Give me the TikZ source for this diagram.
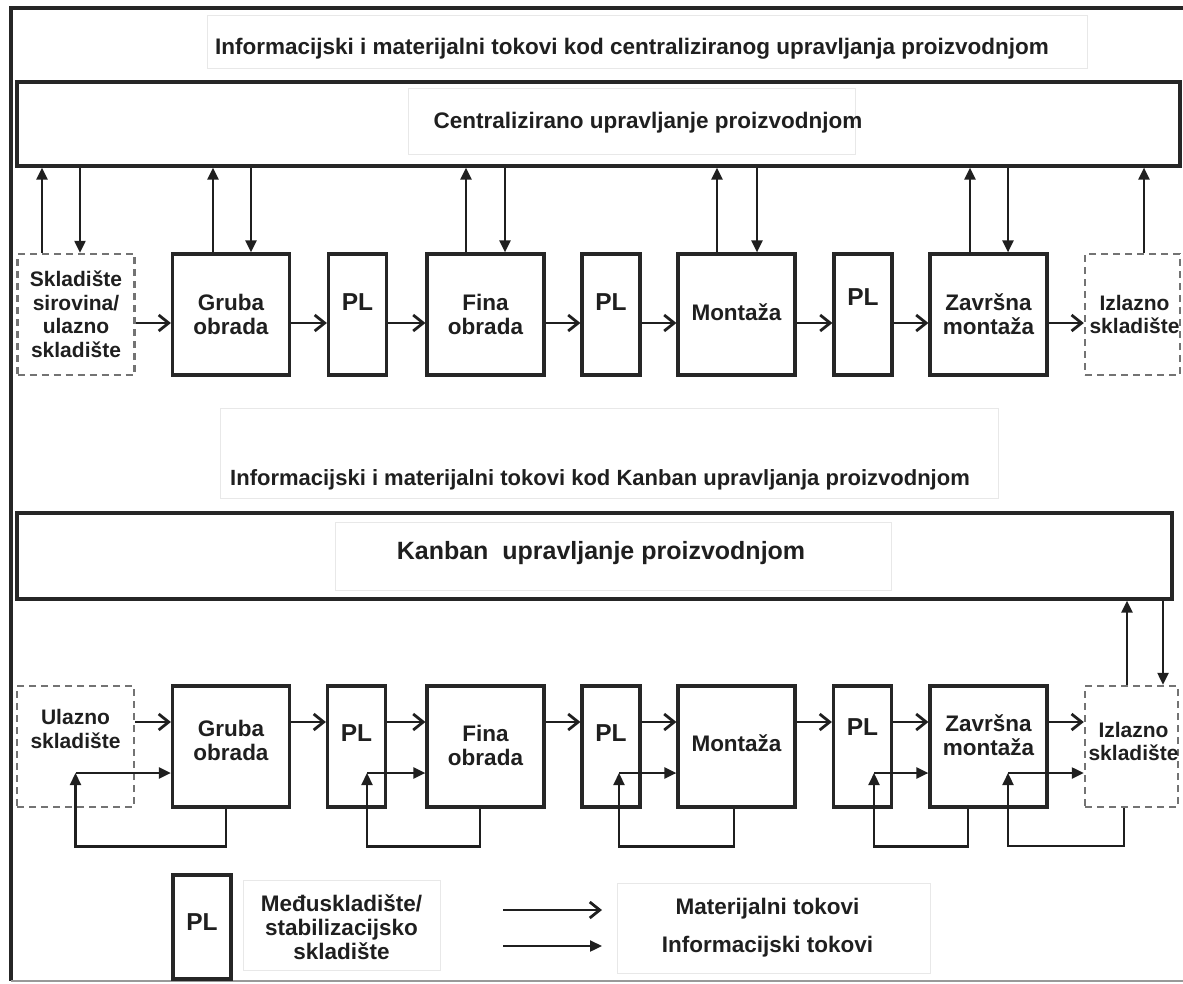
\documentclass[tikz,border=0pt]{standalone}
\usepackage{fontspec}
\setmainfont{Liberation Sans}
\usetikzlibrary{arrows.meta}

\newcommand\boxfont{\fontsize{22.5}{24}\selectfont\bfseries}
\newcommand\storefont{\fontsize{21}{23.5}\selectfont\bfseries}
\newcommand\plfont{\fontsize{24.5}{26}\selectfont\bfseries}
\newcommand\ttlfont{\fontsize{22}{24}\selectfont\bfseries}
\newcommand\kanbanfont{\fontsize{25}{27}\selectfont\bfseries}

\tikzset{
  box/.style={draw=black!85, line width=3.2pt, minimum width=117pt, minimum height=121pt, inner sep=0pt},
  plbox/.style={box, minimum width=58pt},
  store/.style={box, draw=black!55, line width=2.4pt, dash pattern=on 7pt off 5pt},
  faint/.style={draw=black!9, line width=1pt, inner sep=0pt},
  lbl/.style={font=\boxfont, align=center, inner sep=0pt, text=black!88},
  mat/.style={draw=black!88, line width=2.8pt, -{Straight Barb[length=10pt,width=16pt]}},
  inf/.style={draw=black!88, line width=2.3pt, -{Triangle[length=12pt,width=11pt]}}
}

\begin{document}
\begin{tikzpicture}[x=1pt, y=-1pt]
\useasboundingbox (0,0) rectangle (1183,983);
% frame
\draw[line width=3.5pt, black!85] (1183,8) -- (11,8) -- (11,981);
\draw[line width=1.5pt, black!40] (11,981) -- (1183,981);

% centralised control
\node[faint, minimum width=880pt, minimum height=53pt, label={[lbl, xshift=-15pt, yshift=-7pt]center:Informacijski i materijalni tokovi kod centraliziranog upravljanja proizvodnjom}] (ttl1) at (647,41.5) {};
\node[box, minimum width=1163pt, minimum height=84pt] (ctrl1) at (598.5,124) {};
\node[faint, minimum width=447pt, minimum height=66pt, label={[lbl, xshift=16.5pt, yshift=-2pt]center:Centralizirano upravljanje proizvodnjom}] (ctrl1t) at (631.5,121) {};

\node[store, label={[lbl, font=\storefont]center:Skladište\\sirovina/\\ulazno\\skladište}] (skl1) at (76,314.5) {};
\node[box, label={[lbl]center:Gruba\\obrada}] (gr1) at (231,314.5) {};
\node[plbox, label={[lbl, font=\plfont, yshift=12pt]center:PL}] (pl1a) at (357.5,314.5) {};
\node[box, label={[lbl]center:Fina\\obrada}] (fi1) at (485.5,314.5) {};
\node[plbox, label={[lbl, font=\plfont, yshift=12pt]center:PL}] (pl1b) at (611,314.5) {};
\node[box, label={[lbl, yshift=2pt]center:Montaža}] (mo1) at (736.5,314.5) {};
\node[plbox, label={[lbl, font=\plfont, yshift=17pt]center:PL}] (pl1c) at (863,314.5) {};
\node[box, label={[lbl]center:Završna\\montaža}] (zm1) at (988.5,314.5) {};
\node[store, minimum width=95pt, label={[lbl, font=\storefont, xshift=2pt]center:Izlazno\\skladište}] (iz1) at (1132.5,314.5) {};

\draw[mat] ([yshift=-8.5pt]skl1.east) -- ([yshift=-8.5pt]gr1.west);
\draw[mat] ([yshift=-8.5pt]gr1.east) -- ([yshift=-8.5pt]pl1a.west);
\draw[mat] ([yshift=-8.5pt]pl1a.east) -- ([yshift=-8.5pt]fi1.west);
\draw[mat] ([yshift=-8.5pt]fi1.east) -- ([yshift=-8.5pt]pl1b.west);
\draw[mat] ([yshift=-8.5pt]pl1b.east) -- ([yshift=-8.5pt]mo1.west);
\draw[mat] ([yshift=-8.5pt]mo1.east) -- ([yshift=-8.5pt]pl1c.west);
\draw[mat] ([yshift=-8.5pt]pl1c.east) -- ([yshift=-8.5pt]zm1.west);
\draw[mat] ([yshift=-8.5pt]zm1.east) -- ([yshift=-8.5pt]iz1.west);

\draw[inf] ([xshift=-34pt]skl1.north) -- ([xshift=-34pt]skl1.north |- ctrl1.south);
\draw[inf] ([xshift=4pt]skl1.north |- ctrl1.south) -- ([xshift=4pt]skl1.north);
\draw[inf] ([xshift=-18pt]gr1.north) -- ([xshift=-18pt]gr1.north |- ctrl1.south);
\draw[inf] ([xshift=20pt]gr1.north |- ctrl1.south) -- ([xshift=20pt]gr1.north);
\draw[inf] ([xshift=-19.5pt]fi1.north) -- ([xshift=-19.5pt]fi1.north |- ctrl1.south);
\draw[inf] ([xshift=19.5pt]fi1.north |- ctrl1.south) -- ([xshift=19.5pt]fi1.north);
\draw[inf] ([xshift=-19.5pt]mo1.north) -- ([xshift=-19.5pt]mo1.north |- ctrl1.south);
\draw[inf] ([xshift=20.5pt]mo1.north |- ctrl1.south) -- ([xshift=20.5pt]mo1.north);
\draw[inf] ([xshift=-18.5pt]zm1.north) -- ([xshift=-18.5pt]zm1.north |- ctrl1.south);
\draw[inf] ([xshift=19.5pt]zm1.north |- ctrl1.south) -- ([xshift=19.5pt]zm1.north);
\draw[inf] ([xshift=11.5pt]iz1.north) -- ([xshift=11.5pt]iz1.north |- ctrl1.south);

% kanban control
\node[faint, minimum width=778pt, minimum height=90pt, label={[lbl, font=\ttlfont, xshift=-9pt, yshift=-27pt]center:Informacijski i materijalni tokovi kod Kanban upravljanja proizvodnjom}] (ttl2) at (609,453) {};
\node[box, minimum width=1155pt, minimum height=86pt] (ctrl2) at (594.5,556) {};
\node[faint, minimum width=556pt, minimum height=68pt, label={[lbl, font=\kanbanfont, xshift=-12pt, yshift=3pt]center:Kanban\ \ upravljanje proizvodnjom}] (ctrl2t) at (613,556) {};

\node[store, label={[lbl, font=\storefont, yshift=17.5pt]center:Ulazno\\skladište}] (ul2) at (75.5,746.5) {};
\node[box, label={[lbl, yshift=6pt]center:Gruba\\obrada}] (gr2) at (231,746.5) {};
\node[plbox, label={[lbl, font=\plfont, yshift=13.5pt]center:PL}] (pl2a) at (356.5,746.5) {};
\node[box, label={[lbl, yshift=1.5pt]center:Fina\\obrada}] (fi2) at (485.5,746.5) {};
\node[plbox, label={[lbl, font=\plfont, yshift=13.5pt]center:PL}] (pl2b) at (611,746.5) {};
\node[box, label={[lbl, yshift=3.5pt]center:Montaža}] (mo2) at (736.5,746.5) {};
\node[plbox, label={[lbl, font=\plfont, yshift=19.5pt]center:PL}] (pl2c) at (862.5,746.5) {};
\node[box, label={[lbl, yshift=11pt]center:Završna\\montaža}] (zm2) at (988.5,746.5) {};
\node[store, minimum width=93pt, label={[lbl, font=\storefont, xshift=2pt, yshift=5pt]center:Izlazno\\skladište}] (iz2) at (1131.5,746.5) {};

\draw[mat] ([yshift=24.5pt]ul2.east) -- ([yshift=24.5pt]gr2.west);
\draw[mat] ([yshift=24.5pt]gr2.east) -- ([yshift=24.5pt]pl2a.west);
\draw[mat] ([yshift=24.5pt]pl2a.east) -- ([yshift=24.5pt]fi2.west);
\draw[mat] ([yshift=24.5pt]fi2.east) -- ([yshift=24.5pt]pl2b.west);
\draw[mat] ([yshift=24.5pt]pl2b.east) -- ([yshift=24.5pt]mo2.west);
\draw[mat] ([yshift=24.5pt]mo2.east) -- ([yshift=24.5pt]pl2c.west);
\draw[mat] ([yshift=24.5pt]pl2c.east) -- ([yshift=24.5pt]zm2.west);
\draw[mat] ([yshift=24.5pt]zm2.east) -- ([yshift=24.5pt]iz2.west);

\draw[inf] ([xshift=-4.5pt]iz2.north) -- ([xshift=-4.5pt]iz2.north |- ctrl2.south);
\draw[inf] ([xshift=31.5pt]iz2.north |- ctrl2.south) -- ([xshift=31.5pt]iz2.north);

% kanban feedback
\coordinate (fb1) at ([yshift=-26.5pt]ul2.center);
\coordinate (fb2) at ([xshift=10.5pt, yshift=-26.5pt]pl2a.center);
\coordinate (fb3) at ([xshift=8pt, yshift=-26.5pt]pl2b.center);
\coordinate (fb4) at ([xshift=11.5pt, yshift=-26.5pt]pl2c.center);
\coordinate (fb5) at ([xshift=19.5pt, yshift=-26.5pt]zm2.center);
\draw[inf] ([xshift=-5pt]gr2.south) -- ++(0,38) -| (fb1);
\draw[inf] (fb1) -- (fb1 -| gr2.west);
\draw[inf] ([xshift=-5.5pt]fi2.south) -- ++(0,38) -| (fb2);
\draw[inf] (fb2) -- (fb2 -| fi2.west);
\draw[inf] ([xshift=-2.5pt]mo2.south) -- ++(0,38) -| (fb3);
\draw[inf] (fb3) -- (fb3 -| mo2.west);
\draw[inf] ([xshift=-20.5pt]zm2.south) -- ++(0,38) -| (fb4);
\draw[inf] (fb4) -- (fb4 -| zm2.west);
\draw[inf] ([xshift=-7.5pt]iz2.south) -- ++(0,38) -| (fb5);
\draw[inf] (fb5) -- (fb5 -| iz2.west);

% legend
\node[plbox, minimum height=104pt, label={[lbl, font=\plfont, yshift=5pt]center:PL}] (lgpl) at (202,927) {};
\node[faint, minimum width=197pt, minimum height=90pt, label={[lbl, yshift=-2pt]center:Međuskladište/\\stabilizacijsko\\skladište}] (lgt1) at (341.5,925) {};
\coordinate (lm0) at (503,910);
\coordinate (lm1) at (602,910);
\coordinate (li0) at (503,946);
\coordinate (li1) at (602,946);
\draw[mat] (lm0) -- (lm1);
\draw[inf] (li0) -- (li1);
\node[faint, minimum width=313pt, minimum height=90pt, label={[lbl, xshift=-6pt]center:Materijalni tokovi\\[14pt]Informacijski tokovi}] (lgt2) at (773.5,928) {};
\end{tikzpicture}
\end{document}
